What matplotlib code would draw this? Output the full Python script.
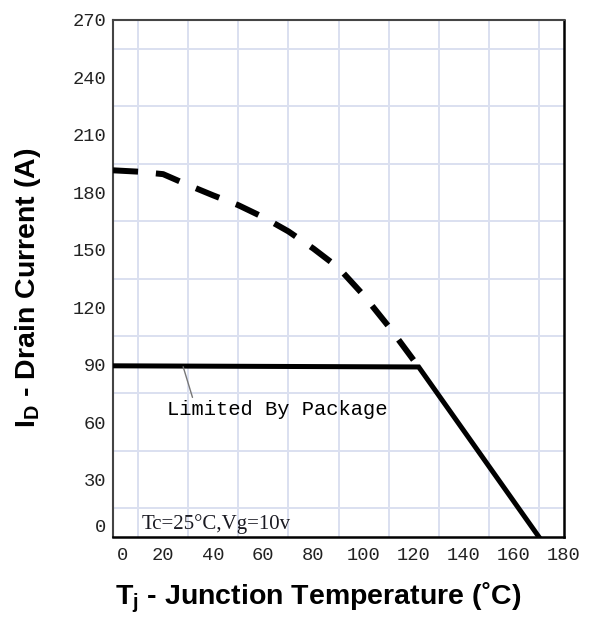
import matplotlib
matplotlib.use("Agg")
import matplotlib.pyplot as plt
import matplotlib.transforms as mtransforms
import numpy as np

# Data
# dashed: silicon-limited current
tj_si = [0, 10, 20, 30, 40, 50, 60, 70, 80, 90, 100, 110, 122]
id_si = [191.5, 190.8, 189.5, 183.8, 178.4, 173.3, 167.0, 159.6, 150.6, 140.6, 126.3, 110.0, 88.8]
# solid: package-limited current, then derating
tj_pkg = [0, 122, 170]
id_pkg = [89.4, 88.8, 0]

x_ticks = [0, 20, 40, 60, 80, 100, 120, 140, 160, 180]
y_ticks = [0, 30, 60, 90, 120, 150, 180, 210, 240, 270]

plt.rcParams['mathtext.fontset'] = 'custom'
plt.rcParams['mathtext.bf'] = 'Liberation Sans:bold'
plt.rcParams['mathtext.rm'] = 'Liberation Sans'

fig = plt.figure(figsize=(5.9, 6.37), dpi=100)
ax = fig.add_axes([113 / 590, 100 / 637, 451 / 590, 517 / 637])

ax.set_xlim(0, 180)
ax.set_ylim(0, 270)

# grid
ax.set_xticks(np.arange(0, 181, 10), minor=True)
ax.set_yticks(np.arange(0, 271, 15), minor=True)
ax.grid(which='minor', color='#dbe0f0', lw=1.4, zorder=0)
ax.set_axisbelow(True)
ax.tick_params(which='minor', length=0)

ax.set_xticks(x_ticks)
ax.set_yticks(y_ticks)
ax.tick_params(axis='x', which='major', length=0, pad=7)
ax.tick_params(axis='y', which='major', length=0, pad=5)
for lab in ax.get_xticklabels() + ax.get_yticklabels():
    lab.set_family('Liberation Mono')
    lab.set_fontsize(13.5)
    lab.set_color('#222222')

# nudge the two zero labels away from the corner
xl0 = ax.get_xticklabels()[0]
xl0.set_transform(xl0.get_transform() + mtransforms.ScaledTranslation(9 / 100, 0, fig.dpi_scale_trans))
yl0 = ax.get_yticklabels()[0]
yl0.set_transform(yl0.get_transform() + mtransforms.ScaledTranslation(0, 11 / 100, fig.dpi_scale_trans))

for side in ['top', 'left']:
    ax.spines[side].set_color('#444444')
    ax.spines[side].set_linewidth(1.5)
for side in ['right', 'bottom']:
    ax.spines[side].set_color('black')
    ax.spines[side].set_linewidth(1.8)

ax.plot(tj_si, id_si, color='black', lw=4.3, dashes=(4.2, 3.0), solid_capstyle='butt', zorder=3)
ax.plot(tj_pkg, id_pkg, color='black', lw=3.6, solid_joinstyle='miter', zorder=3)

ax.annotate('Limited By Package', xy=(28, 88.9), xytext=(21.5, 66.5),
            family='Liberation Mono', fontsize=14.8, color='black', va='center', ha='left',
            arrowprops=dict(arrowstyle='-', color='#777777', lw=1, shrinkA=0, shrinkB=0,
                            relpos=(0.12, 1.0)))

ax.text(11.5, 4, 'Tc=25°C,Vg=10v', family='Liberation Serif', fontsize=15,
        color='#1a1a22', ha='left', va='baseline')

fig.text(28 / 590, 1 - 288 / 637, r'$\mathbf{I_D}$ - Drain Current (A)', rotation=90,
         family='Liberation Sans', fontweight='bold', fontsize=20.5, ha='center', va='center')
fig.text(318 / 590, 1 - 598 / 637, r'$\mathbf{T_j}$ - Junction Temperature (˚C)',
         family='Liberation Sans', fontweight='bold', fontsize=20.5, ha='center', va='center')

fig.savefig('out.png', dpi=100)
